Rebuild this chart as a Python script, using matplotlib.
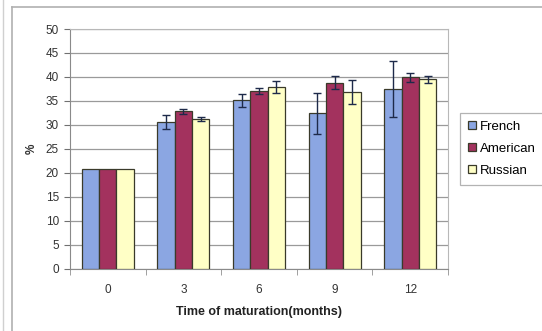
import matplotlib
matplotlib.use("Agg")
import matplotlib.pyplot as plt
import numpy as np
from matplotlib.lines import Line2D

plt.rcParams['font.family'] = ['Liberation Sans', 'DejaVu Sans']

months = ["0", "3", "6", "9", "12"]
series = ["French", "American", "Russian"]
french = [20.8, 30.6, 35.1, 32.4, 37.5]
american = [20.8, 32.8, 37.0, 38.8, 39.9]
russian = [20.8, 31.2, 37.9, 36.8, 39.5]
french_err = [0.0, 1.5, 1.3, 4.2, 5.8]
american_err = [0.0, 0.6, 0.6, 1.3, 0.9]
russian_err = [0.0, 0.4, 1.2, 2.5, 0.8]
y_ticks = [0, 5, 10, 15, 20, 25, 30, 35, 40, 45, 50]

colors = ["#8ba6e2", "#a3325e", "#ffffc6"]
edge = "#3a3a2a"

W, H = 542, 331
fig = plt.figure(figsize=(W / 100, H / 100), dpi=100)
fig.patch.set_facecolor("white")

# outer chart frame
fig.add_artist(Line2D([12 / W, 12 / W], [0, 1 - 7 / H], color="#b0b0b0", lw=1.2))
fig.add_artist(Line2D([12 / W, 1], [1 - 7 / H, 1 - 7 / H], color="#b0b0b0", lw=1.2))
fig.add_artist(Line2D([3 / W, 3 / W], [0, 1], color="#d0d0d0", lw=1.0))

ax = fig.add_axes([70 / W, (H - 268.7) / H, 378 / W, 239.7 / H])
x = np.arange(len(months))
bw = 0.229
data = [french, american, russian]
errs = [french_err, american_err, russian_err]
for i, (vals, err, c, name) in enumerate(zip(data, errs, colors, series)):
    pos = x + (i - 1) * bw
    ax.bar(pos, vals, width=bw, color=c, edgecolor=edge, linewidth=0.9,
           label=name, zorder=3)
    e = np.array(err)
    m = e > 0
    ax.errorbar(pos[m], np.array(vals)[m], yerr=e[m], fmt="none",
                ecolor="#1e2a4a", elinewidth=1.0, capsize=3.2, capthick=1.0,
                zorder=4)

ax.set_xlim(-0.5, len(months) - 0.5)
ax.set_ylim(0, 50)
ax.set_yticks(y_ticks)
ax.set_xticks(x)
ax.set_xticklabels(months)
ax.set_xticks(np.arange(-0.5, len(months), 1.0), minor=True)
ax.tick_params(axis="x", which="major", length=0, pad=11, labelsize=8.5,
               labelcolor="#333333")
ax.tick_params(axis="x", which="minor", length=4, color="#909090", direction="out")
ax.tick_params(axis="y", length=4, color="#707070", labelsize=8.5,
               labelcolor="#333333", pad=4)
ax.yaxis.grid(True, color="#9a9a9a", lw=0.9, zorder=0)
ax.set_axisbelow(True)
for s in ["top", "right"]:
    ax.spines[s].set_color("#b8b8b8")
for s in ["left", "bottom"]:
    ax.spines[s].set_color("#8a8a8a")

ax.set_xlabel("Time of maturation(months)", fontsize=9, fontweight="bold",
              color="#222222", labelpad=7)
ax.set_ylabel("%", fontsize=8.5, fontweight="bold", color="#333333", labelpad=6)

leg = fig.legend(loc="upper left", bbox_to_anchor=(460 / W, 1 - 113 / H),
                 fontsize=9.5, frameon=True, fancybox=False, edgecolor="#a0a0a0",
                 handlelength=0.6, handleheight=0.6, handletextpad=0.3,
                 labelspacing=0.75, borderpad=0.6, borderaxespad=0)
leg.get_frame().set_linewidth(0.9)
for h in leg.legend_handles:
    h.set_linewidth(0.9)

fig.savefig("out.png", dpi=100, facecolor="white")
